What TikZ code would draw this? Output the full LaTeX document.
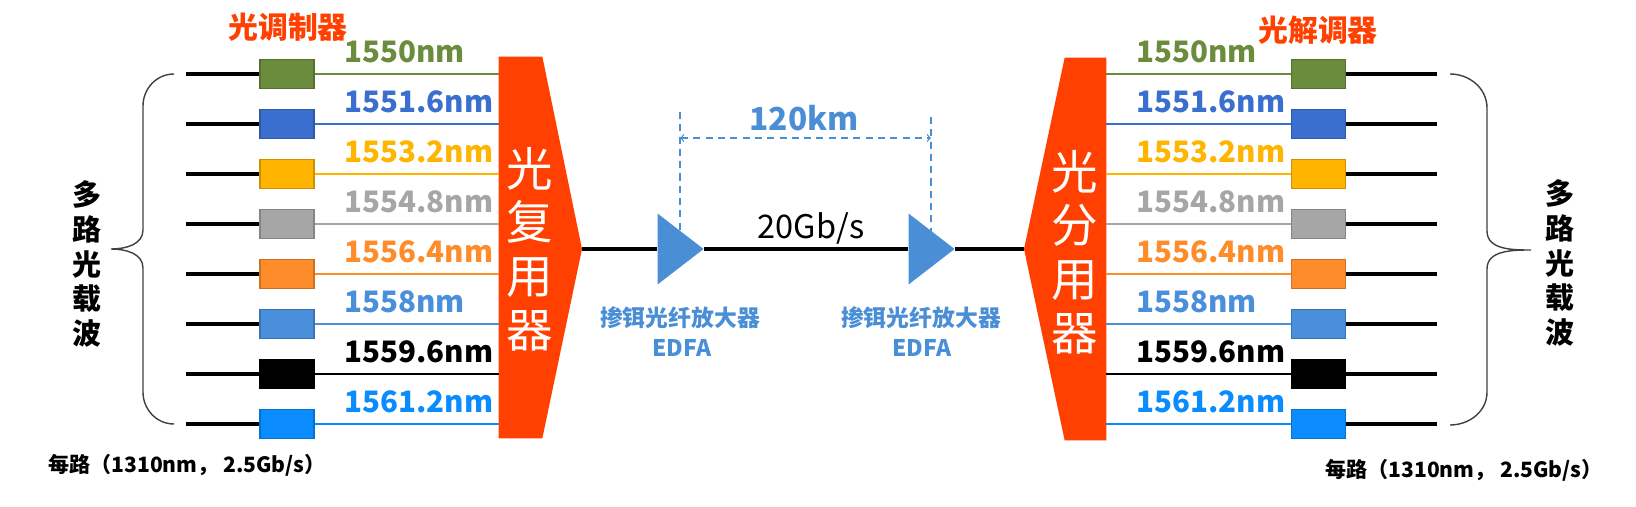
\documentclass[tikz,border=0pt]{standalone}
\usepackage{fontspec}
\setmainfont{Noto Sans CJK SC}
\usetikzlibrary{shapes.geometric}

\definecolor{muxred}{HTML}{FF4000}
\definecolor{wgreen}{HTML}{6A8C3C}
\definecolor{wblue}{HTML}{3A6FCF}
\definecolor{wyellow}{HTML}{FFB400}
\definecolor{wgrey}{HTML}{A6A6A6}
\definecolor{worange}{HTML}{FF8C2A}
\definecolor{wsky}{HTML}{4A8FDB}
\definecolor{wdeep}{HTML}{0A8CFF}
\definecolor{ampblue}{HTML}{4A8FD6}
\definecolor{bracegrey}{HTML}{404040}

\begin{document}
\begin{tikzpicture}[x=0.02cm, y=-0.02cm,
    modbox/.style={draw=#1!80!black, fill=#1, line width=0.6pt, minimum width=1.08cm, minimum height=0.58cm, inner sep=0},
    wl/.style={font=\fontsize{16.8}{17}\selectfont\bfseries, text=#1, anchor=base west, inner sep=0},
    fiber/.style={line width=1.8pt},
    colfiber/.style={line width=1.3pt, #1},
    amp/.style={isosceles triangle, isosceles triangle stretches, shape border rotate=0, fill=ampblue, minimum width=1.42cm, minimum height=0.92cm, inner sep=0},
    dim/.style={ampblue, line width=0.7pt, dash pattern=on 4pt off 3pt},
    brace/.style={bracegrey, line width=0.8pt},
    vtext/.style={font=\fontsize{16.5}{19.8}\selectfont\bfseries, align=center, inner sep=0},
    muxtext/.style={font=\fontsize{26.5}{30.6}\selectfont, text=white, align=center, inner sep=0}]

    \useasboundingbox (0,0) rectangle (1636,507);

    % multiplexer / demultiplexer
    \node[minimum width=0.86cm, minimum height=7.62cm, inner sep=0] (mux) at (520.5,247.5) {};
    \coordinate (muxtip) at (582,249);
    \fill[muxred] (mux.north west) -- (mux.north east) -- (muxtip) -- (mux.south east) -- (mux.south west) -- cycle;
    \node[muxtext] (muxtxt) at (530,249) {光\\复\\用\\器};

    \node[minimum width=0.82cm, minimum height=7.64cm, inner sep=0] (demux) at (1085.5,249) {};
    \coordinate (demuxtip) at (1024,249);
    \fill[muxred] (demux.north east) -- (demux.north west) -- (demuxtip) -- (demux.south west) -- (demux.south east) -- cycle;
    \node[muxtext] (demuxtxt) at (1075,252) {光\\分\\用\\器};

    % left: modulators
    \node[font=\fontsize{17}{17}\selectfont\bfseries, text=muxred] (modlbl) at (288,27) {光调制器};

    \coordinate (li1) at (186,74);
    \node[modbox=wgreen] (lm1) at (287,74) {};
    \draw[fiber] (li1) -- (lm1);
    \draw[colfiber=wgreen] (lm1) -- (lm1 -| mux.west);
    \node[wl=wgreen] (lw1) at (344,62) {1550nm};

    \coordinate (li2) at (186,124);
    \node[modbox=wblue] (lm2) at (287,124) {};
    \draw[fiber] (li2) -- (lm2);
    \draw[colfiber=wblue] (lm2) -- (lm2 -| mux.west);
    \node[wl=wblue] (lw2) at (344,112) {1551.6nm};

    \coordinate (li3) at (186,174);
    \node[modbox=wyellow] (lm3) at (287,174) {};
    \draw[fiber] (li3) -- (lm3);
    \draw[colfiber=wyellow] (lm3) -- (lm3 -| mux.west);
    \node[wl=wyellow] (lw3) at (344,162) {1553.2nm};

    \coordinate (li4) at (186,224);
    \node[modbox=wgrey] (lm4) at (287,224) {};
    \draw[fiber] (li4) -- (lm4);
    \draw[colfiber=wgrey] (lm4) -- (lm4 -| mux.west);
    \node[wl=wgrey] (lw4) at (344,212) {1554.8nm};

    \coordinate (li5) at (186,274);
    \node[modbox=worange] (lm5) at (287,274) {};
    \draw[fiber] (li5) -- (lm5);
    \draw[colfiber=worange] (lm5) -- (lm5 -| mux.west);
    \node[wl=worange] (lw5) at (344,262) {1556.4nm};

    \coordinate (li6) at (186,324);
    \node[modbox=wsky] (lm6) at (287,324) {};
    \draw[fiber] (li6) -- (lm6);
    \draw[colfiber=wsky] (lm6) -- (lm6 -| mux.west);
    \node[wl=wsky] (lw6) at (344,312) {1558nm};

    \coordinate (li7) at (186,374);
    \node[modbox=black] (lm7) at (287,374) {};
    \draw[fiber] (li7) -- (lm7);
    \draw[colfiber=black] (lm7) -- (lm7 -| mux.west);
    \node[wl=black] (lw7) at (344,362) {1559.6nm};

    \coordinate (li8) at (186,424);
    \node[modbox=wdeep] (lm8) at (287,424) {};
    \draw[fiber] (li8) -- (lm8);
    \draw[colfiber=wdeep] (lm8) -- (lm8 -| mux.west);
    \node[wl=wdeep] (lw8) at (344,412) {1561.2nm};

    \draw[brace] (174,74) to[out=180, in=90] (143,106) -- (143,230) to[out=-90, in=0] (111,249)
        to[out=0, in=90] (143,268) -- (143,392) to[out=-90, in=180] (174,424);
    \node[vtext] (lcarrier) at (87,264) {多\\路\\光\\载\\波};
    \node[font=\fontsize{12}{12}\selectfont\bfseries] (lnote) at (187,465) {每路（1310nm， 2.5Gb/s）};

    % fibre link with amplifiers
    \draw[dim] (680,112) coordinate (dt1) -- (680,249);
    \draw[dim] (931,117) coordinate (dt2) -- (931,249);
    \coordinate (da1) at (680,138);
    \coordinate (da2) at (931,138);
    \draw[dim, <->] (da1) -- (da2);
    \node[font=\fontsize{18}{18}\selectfont\bfseries, text=ampblue] (dist) at (804,118) {120km};

    \node[amp] (amp1) at (675,249) {};
    \node[amp] (amp2) at (926,249) {};
    \draw[fiber] (muxtip) -- (amp1);
    \draw[fiber] (amp1) -- (amp2);
    \draw[fiber] (amp2) -- (demuxtip);
    \node[font=\fontsize{18.5}{18.5}\selectfont, anchor=base] (rate) at (811,238) {20Gb/s};

    \node[font=\fontsize{13}{13}\selectfont\bfseries, text=ampblue] (edfa1) at (680,318) {掺铒光纤放大器};
    \node[font=\fontsize{13}{13}\selectfont\bfseries, text=ampblue] (edfa1b) at (682,348) {EDFA};
    \node[font=\fontsize{13}{13}\selectfont\bfseries, text=ampblue] (edfa2) at (921,318) {掺铒光纤放大器};
    \node[font=\fontsize{13}{13}\selectfont\bfseries, text=ampblue] (edfa2b) at (922,348) {EDFA};

    % right: demodulators
    \node[font=\fontsize{17}{17}\selectfont\bfseries, text=muxred] (demodlbl) at (1318,30) {光解调器};

    \coordinate (ro1) at (1437,74);
    \node[modbox=wgreen] (rm1) at (1318.5,74) {};
    \draw[colfiber=wgreen] (rm1 -| demux.east) -- (rm1);
    \draw[fiber] (rm1) -- (ro1);
    \node[wl=wgreen] (rw1) at (1136,62) {1550nm};

    \coordinate (ro2) at (1437,124);
    \node[modbox=wblue] (rm2) at (1318.5,124) {};
    \draw[colfiber=wblue] (rm2 -| demux.east) -- (rm2);
    \draw[fiber] (rm2) -- (ro2);
    \node[wl=wblue] (rw2) at (1136,112) {1551.6nm};

    \coordinate (ro3) at (1437,174);
    \node[modbox=wyellow] (rm3) at (1318.5,174) {};
    \draw[colfiber=wyellow] (rm3 -| demux.east) -- (rm3);
    \draw[fiber] (rm3) -- (ro3);
    \node[wl=wyellow] (rw3) at (1136,162) {1553.2nm};

    \coordinate (ro4) at (1437,224);
    \node[modbox=wgrey] (rm4) at (1318.5,224) {};
    \draw[colfiber=wgrey] (rm4 -| demux.east) -- (rm4);
    \draw[fiber] (rm4) -- (ro4);
    \node[wl=wgrey] (rw4) at (1136,212) {1554.8nm};

    \coordinate (ro5) at (1437,274);
    \node[modbox=worange] (rm5) at (1318.5,274) {};
    \draw[colfiber=worange] (rm5 -| demux.east) -- (rm5);
    \draw[fiber] (rm5) -- (ro5);
    \node[wl=worange] (rw5) at (1136,262) {1556.4nm};

    \coordinate (ro6) at (1437,324);
    \node[modbox=wsky] (rm6) at (1318.5,324) {};
    \draw[colfiber=wsky] (rm6 -| demux.east) -- (rm6);
    \draw[fiber] (rm6) -- (ro6);
    \node[wl=wsky] (rw6) at (1136,312) {1558nm};

    \coordinate (ro7) at (1437,374);
    \node[modbox=black] (rm7) at (1318.5,374) {};
    \draw[colfiber=black] (rm7 -| demux.east) -- (rm7);
    \draw[fiber] (rm7) -- (ro7);
    \node[wl=black] (rw7) at (1136,362) {1559.6nm};

    \coordinate (ro8) at (1437,424);
    \node[modbox=wdeep] (rm8) at (1318.5,424) {};
    \draw[colfiber=wdeep] (rm8 -| demux.east) -- (rm8);
    \draw[fiber] (rm8) -- (ro8);
    \node[wl=wdeep] (rw8) at (1136,412) {1561.2nm};

    \draw[brace] (1450,74) to[out=0, in=90] (1487,108) -- (1487,231) to[out=-90, in=180] (1531,250)
        to[out=180, in=90] (1487,269) -- (1487,392) to[out=-90, in=0] (1450,425);
    \node[vtext] (rcarrier) at (1560,263) {多\\路\\光\\载\\波};
    \node[font=\fontsize{12}{12}\selectfont\bfseries] (rnote) at (1464,470) {每路（1310nm， 2.5Gb/s）};

\end{tikzpicture}
\end{document}
